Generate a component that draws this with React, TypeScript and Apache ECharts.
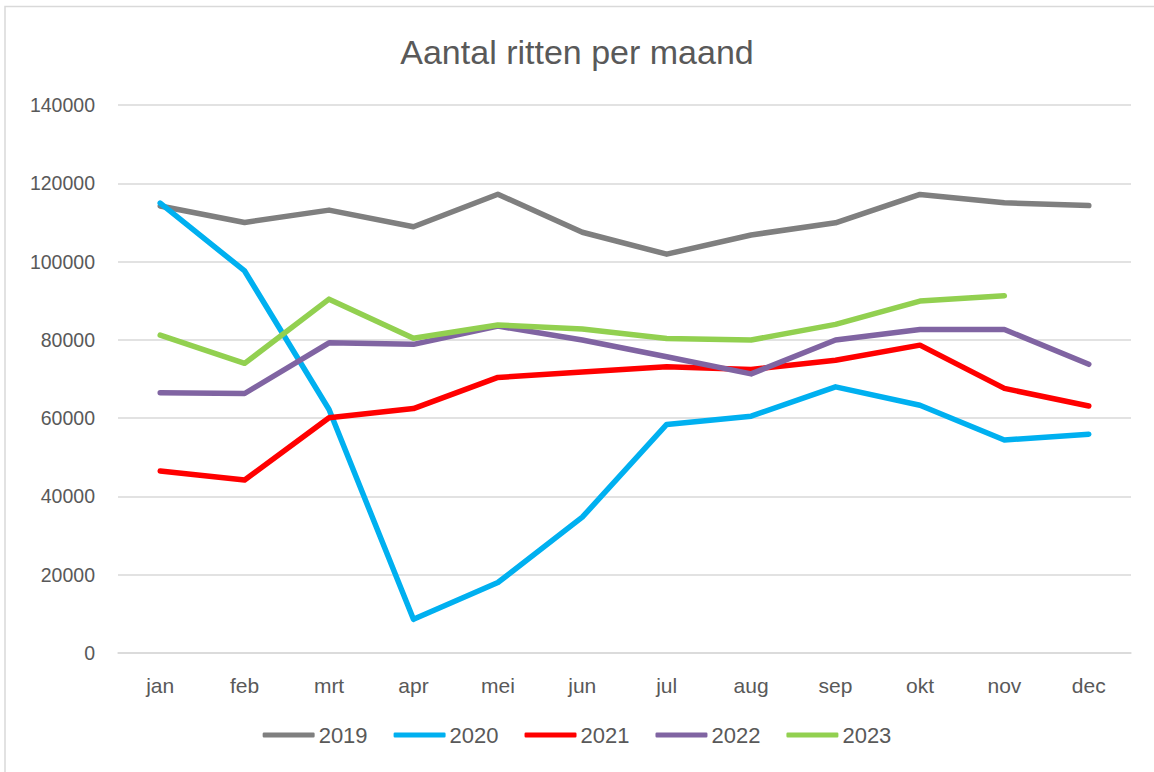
import React, { useEffect, useRef } from "react";
import * as echarts from "echarts";

const months = ["jan", "feb", "mrt", "apr", "mei", "jun", "jul", "aug", "sep", "okt", "nov", "dec"];
const s2019 = [114200, 110000, 113150, 108900, 117200, 107500, 101900, 106800, 109900, 117150, 115000, 114300];
const s2020 = [114950, 97600, 62200, 8600, 18000, 34700, 58400, 60500, 68000, 63300, 54400, 55900];
const s2021 = [46500, 44200, 60100, 62450, 70400, 71800, 73100, 72450, 74800, 78650, 67600, 63100];
const s2022 = [66500, 66300, 79250, 78850, 83500, 79950, 75700, 71300, 79950, 82650, 82650, 73750];
const s2023: (number | null)[] = [81200, 74000, 90400, 80400, 83800, 82750, 80350, 79950, 83950, 89900, 91250, null];
const seriesNames = ["2019", "2020", "2021", "2022", "2023"];
const seriesColors = ["#7f7f7f", "#00b0f0", "#ff0000", "#8064a2", "#92d050"];
const yTicks = { min: 0, max: 140000, interval: 20000 };

export default function App() {
  const ref = useRef<HTMLDivElement>(null);
  useEffect(() => {
    document.body.style.margin = "0";
    const chart = echarts.init(ref.current!, null, { renderer: "svg" });
    const data = [s2019, s2020, s2021, s2022, s2023];
    const font = "Liberation Sans";
    chart.setOption({
      animation: false,
      backgroundColor: "#ffffff",
      textStyle: { fontFamily: font },
      title: {
        text: "Aantal ritten per maand",
        left: "center",
        top: 30,
        textStyle: { fontFamily: font, fontSize: 34, fontWeight: "normal", color: "#595959" },
      },
      graphic: [
        {
          type: "rect",
          shape: { x: 5, y: 6.5, width: 1200, height: 820 },
          style: { fill: "none", stroke: "#d9d9d9", lineWidth: 1.5 },
          silent: true,
        },
      ],
      legend: {
        bottom: 21,
        left: "center",
        itemWidth: 52,
        itemHeight: 5,
        itemGap: 26,
        icon: "roundRect",
        textStyle: { fontFamily: font, fontSize: 22, color: "#595959", padding: [0, 0, 0, -1] },
        data: seriesNames,
      },
      grid: { left: 118, right: 23, top: 105, bottom: 119, containLabel: false },
      xAxis: {
        type: "category",
        data: months,
        boundaryGap: true,
        axisLine: { show: true, lineStyle: { color: "#d9d9d9", width: 1.5 } },
        axisTick: { show: false },
        axisLabel: { color: "#595959", fontSize: 21, margin: 22, fontFamily: font },
      },
      yAxis: {
        type: "value",
        min: yTicks.min,
        max: yTicks.max,
        interval: yTicks.interval,
        axisLine: { show: false },
        axisTick: { show: false },
        axisLabel: {
          color: "#595959",
          fontSize: 19.5,
          margin: 23,
          fontFamily: font,
          formatter: (v: number) => String(v),
        },
        splitLine: { lineStyle: { color: "#d9d9d9", width: 1.5 } },
      },
      series: seriesNames.map((name, i) => ({
        name,
        type: "line",
        data: data[i],
        showSymbol: false,
        symbol: "none",
        color: seriesColors[i],
        lineStyle: { width: 5.5, color: seriesColors[i], cap: "round", join: "round" },
        connectNulls: false,
      })),
    });
    return () => chart.dispose();
  }, []);
  return <div ref={ref} style={{ width: 1154, height: 772 }} />;
}
